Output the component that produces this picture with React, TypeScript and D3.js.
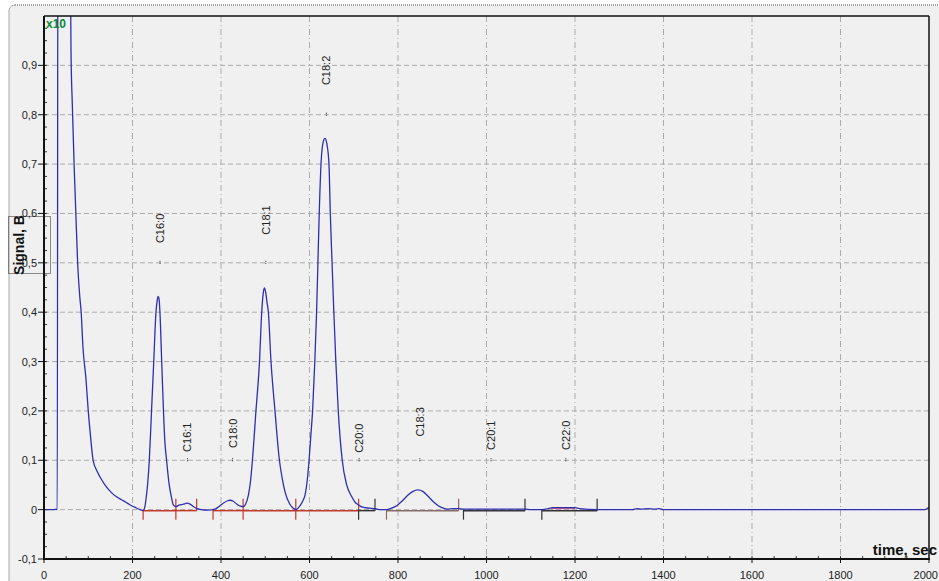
import React, { useEffect, useRef } from 'react';
import * as d3 from 'd3';

// chromatogram trace, [time sec, signal B]
const signal: [number, number][] = [
  [0, 0], [20, 0], [29, 0.001], [30, 0], [31.5, 1.3], [58, 1.3], [61, 0.93], [64, 0.82], [68, 0.7],
  [72, 0.6], [76, 0.5], [81, 0.43], [84, 0.4], [88, 0.33], [95, 0.263], [100, 0.2], [105, 0.15],
  [111, 0.1], [120, 0.078], [130, 0.061], [141, 0.046], [153, 0.034], [164, 0.026], [175, 0.02],
  [185, 0.015], [194, 0.01], [205, 0.005], [217, 0], [224, -0.002],
  [228, 0.006], [231, 0.025], [234, 0.05], [238, 0.1], [243, 0.2], [248, 0.3], [253, 0.4],
  [256, 0.425], [258, 0.432], [260, 0.427], [262, 0.4], [266, 0.3], [270, 0.2], [273, 0.14],
  [277, 0.1], [283, 0.05], [288, 0.025], [292, 0.01], [298, 0.006], [305, 0.009], [315, 0.011],
  [323, 0.013], [330, 0.011], [338, 0.006], [346, 0.002], [355, 0], [370, -0.001], [386, 0.001],
  [395, 0.006], [405, 0.013], [415, 0.018], [420, 0.019], [428, 0.017], [436, 0.011], [444, 0.007],
  [450, 0.006], [456, 0.012], [462, 0.03], [467, 0.06], [471, 0.1], [479, 0.2], [487, 0.3],
  [492, 0.4], [495, 0.435], [498, 0.449], [501, 0.44], [504, 0.42], [507, 0.4], [513, 0.3],
  [522, 0.2], [532, 0.1], [538, 0.065], [545, 0.035], [555, 0.012], [562, 0.004], [569, 0],
  [578, 0.007], [585, 0.018], [590, 0.03], [595, 0.06], [599, 0.1], [603, 0.15], [607, 0.2],
  [612, 0.3], [616, 0.4], [619, 0.5], [622, 0.6], [626, 0.7], [631, 0.745], [635, 0.752],
  [639, 0.742], [644, 0.7], [647, 0.6], [651, 0.5], [655, 0.4], [659.5, 0.3], [665, 0.2],
  [674, 0.1], [684, 0.05], [695, 0.027], [703, 0.015], [710, 0.01], [720, 0.005], [735, 0.003],
  [748, 0.002], [760, 0], [774, 0],
  [785, 0.003], [797, 0.008], [810, 0.018], [822, 0.029], [834, 0.037], [845, 0.04], [856, 0.037],
  [868, 0.027], [880, 0.016], [891, 0.008], [902, 0.003], [912, 0.001], [925, 0.002], [937, 0.002],
  [948, 0.001], [1000, 0.001], [1087, 0.001], [1100, 0], [1125, 0], [1140, 0.002], [1150, 0.004],
  [1200, 0.004], [1210, 0.002], [1250, 0], [1330, 0], [1340, 0.002], [1350, 0.001], [1365, 0.002],
  [1380, 0.001], [1390, 0.002], [1400, 0], [1990, 0], [2000, 0.005],
];

// peak names, retention times, marker level and label start level
const peakNames = ['C16:0', 'C16:1', 'C18:0', 'C18:1', 'C18:2', 'C20:0', 'C18:3', 'C20:1', 'C22:0'];
const peakTimes = [260, 322, 424, 499, 636, 710, 847, 1008, 1177];
const markerValues = [0.5, 0.1, 0.1, 0.5, 0.8, 0.1, 0.1, 0.1, 0.1];
const labelValues = [0.54, 0.117, 0.125, 0.557, 0.86, 0.115, 0.148, 0.121, 0.121];

// integration baselines: start, end, colour
const segStarts = [224, 298, 382, 450, 569, 711, 774, 948, 1125];
const segEnds = [298, 345, 450, 569, 711, 748, 937, 1087, 1250];
const segColors = ['#c0392b', '#c0392b', '#c0392b', '#c0392b', '#c0392b', '#333', '#8a6a6a', '#333', '#333'];

const xTicks = [0, 200, 400, 600, 800, 1000, 1200, 1400, 1600, 1800, 2000];
const yTicks = [-0.1, 0, 0.1, 0.2, 0.3, 0.4, 0.5, 0.6, 0.7, 0.8, 0.9];

const App = () => {
  const ref = useRef<SVGSVGElement>(null);

  useEffect(() => {
    const svg = d3.select(ref.current);
    svg.selectAll('*').remove();

    const left = 44, right = 929, top = 16, bottom = 559;
    const x = d3.scaleLinear().domain([0, 2000]).range([left, right]);
    const y = d3.scaleLinear().domain([-0.1, 1.0]).range([bottom, top]);
    const font = '"Liberation Sans", Arial, sans-serif';
    const fmt = (v: number) => (v === 0 ? '0' : d3.format('.1f')(v).replace('.', ',').replace('−', '-'));

    svg.append('rect').attr('width', 939).attr('height', 581).attr('fill', '#fff');
    svg.append('rect').attr('x', 9).attr('y', 5).attr('width', 960).attr('height', 600).attr('rx', 6)
      .attr('fill', '#f0f0f0').attr('stroke', '#555').attr('stroke-dasharray', '1,1');

    // grid
    const grid = svg.append('g').attr('stroke', '#ababab').attr('stroke-width', 1);
    grid.selectAll('.gx').data(xTicks.filter(d => d > 0 && d < 2000)).enter().append('line')
      .attr('x1', d => x(d)).attr('x2', d => x(d)).attr('y1', top).attr('y2', bottom)
      .attr('stroke-dasharray', '6,3,1,3');
    grid.selectAll('.gy').data(yTicks.filter(d => d > -0.1)).enter().append('line')
      .attr('y1', d => y(d)).attr('y2', d => y(d)).attr('x1', left).attr('x2', right)
      .attr('stroke-dasharray', '5,3');

    // baselines with ticks
    const base = svg.append('g');
    segStarts.forEach((s, i) => {
      const c = segColors[i];
      base.append('line').attr('x1', x(s)).attr('x2', x(segEnds[i])).attr('y1', y(0) + 1).attr('y2', y(0) + 1)
        .attr('stroke', c).attr('stroke-width', 1.5);
      base.append('line').attr('x1', x(s)).attr('x2', x(s)).attr('y1', y(0)).attr('y2', y(0) + 10)
        .attr('stroke', c).attr('stroke-width', 1.2);
      base.append('line').attr('x1', x(segEnds[i])).attr('x2', x(segEnds[i])).attr('y1', y(0) - 11).attr('y2', y(0) + 1)
        .attr('stroke', c).attr('stroke-width', 1.2);
    });
    base.append('line').attr('x1', x(1146)).attr('x2', x(1200)).attr('y1', y(0.003)).attr('y2', y(0.003))
      .attr('stroke', '#d06080').attr('stroke-width', 2);

    // trace
    svg.append('clipPath').attr('id', 'plotclip').append('rect')
      .attr('x', left).attr('y', top).attr('width', right - left).attr('height', bottom - top);
    const line = d3.line<[number, number]>().x(d => x(d[0])).y(d => y(d[1])).curve(d3.curveMonotoneX);
    svg.append('path').datum(signal).attr('d', line).attr('fill', 'none').attr('stroke', '#2e2eb0')
      .attr('stroke-width', 1.3).attr('clip-path', 'url(#plotclip)');

    // peak labels
    const labels = svg.append('g').attr('font-family', font).attr('font-size', 11).attr('fill', '#222');
    peakNames.forEach((n, i) => {
      const px = x(peakTimes[i]);
      labels.append('text').attr('transform', `translate(${px + 1},${y(labelValues[i])}) rotate(-90)`)
        .attr('dominant-baseline', 'central').text(n);
      labels.append('line').attr('x1', px + 1).attr('x2', px + 1).attr('y1', y(markerValues[i]) - 2)
        .attr('y2', y(markerValues[i]) + 2).attr('stroke', '#222').attr('stroke-dasharray', '1,1');
    });

    // axes and frame
    const ax = svg.append('g');
    ax.selectAll('.mx').data(d3.range(50, 2000, 50)).enter().append('line')
      .attr('x1', d => x(d)).attr('x2', d => x(d)).attr('y1', bottom).attr('y2', bottom - 3).attr('stroke', '#333');
    ax.selectAll('.my').data(d3.range(-0.075, 1.0, 0.025)).enter().append('line')
      .attr('y1', d => y(d)).attr('y2', d => y(d)).attr('x1', left).attr('x2', left + 3).attr('stroke', '#333');
    ax.selectAll('.tx').data(xTicks).enter().append('line')
      .attr('x1', d => x(d)).attr('x2', d => x(d)).attr('y1', bottom).attr('y2', bottom + 4).attr('stroke', '#111');
    ax.selectAll('.ty').data(yTicks).enter().append('line')
      .attr('y1', d => y(d)).attr('y2', d => y(d)).attr('x1', left - 6).attr('x2', left).attr('stroke', '#111');
    ax.append('line').attr('x1', left).attr('x2', right).attr('y1', top).attr('y2', top).attr('stroke', '#111').attr('stroke-width', 1.5);
    ax.append('line').attr('x1', right).attr('x2', right).attr('y1', top).attr('y2', bottom).attr('stroke', '#111').attr('stroke-width', 1.5);
    ax.append('line').attr('x1', left).attr('x2', right + 1).attr('y1', bottom).attr('y2', bottom).attr('stroke', '#111').attr('stroke-width', 2);
    ax.append('line').attr('x1', left).attr('x2', left).attr('y1', top).attr('y2', bottom + 1).attr('stroke', '#111').attr('stroke-width', 2);

    ax.selectAll('.lx').data(xTicks).enter().append('text')
      .attr('x', d => (d === 2000 ? 938 : x(d))).attr('y', 575)
      .attr('text-anchor', d => (d === 2000 ? 'end' : 'middle')).attr('dominant-baseline', 'central')
      .attr('font-family', font).attr('font-size', 11).attr('fill', '#222').text(d => String(d));
    ax.selectAll('.ly').data(yTicks).enter().append('text')
      .attr('x', left - 7).attr('y', d => y(d)).attr('text-anchor', 'end').attr('dominant-baseline', 'central')
      .attr('font-family', font).attr('font-size', 11).attr('fill', '#222').text(d => fmt(d));

    svg.append('text').attr('x', 937).attr('y', 555).attr('text-anchor', 'end')
      .attr('font-family', font).attr('font-size', 15).attr('font-weight', 'bold').attr('fill', '#111').text('time, sec');
    svg.append('text').attr('transform', 'translate(19,245) rotate(-90)').attr('text-anchor', 'middle')
      .attr('dominant-baseline', 'central').attr('font-family', font).attr('font-size', 14)
      .attr('font-weight', 'bold').attr('fill', '#111').text('Signal, B');
    svg.append('rect').attr('x', 8.5).attr('y', 216.5).attr('width', 42).attr('height', 57)
      .attr('fill', 'none').attr('stroke', '#222').attr('stroke-dasharray', '1,1');
    svg.append('text').attr('x', 46).attr('y', 24).attr('dominant-baseline', 'central')
      .attr('font-family', font).attr('font-size', 12).attr('font-weight', 'bold').attr('fill', '#0a8a3a').text('x10');
  }, []);

  return (
    <div>
      <svg ref={ref} width={939} height={581} style={{ position: 'absolute', left: 0, top: 0 }}></svg>
    </div>
  );
};

export default App;
